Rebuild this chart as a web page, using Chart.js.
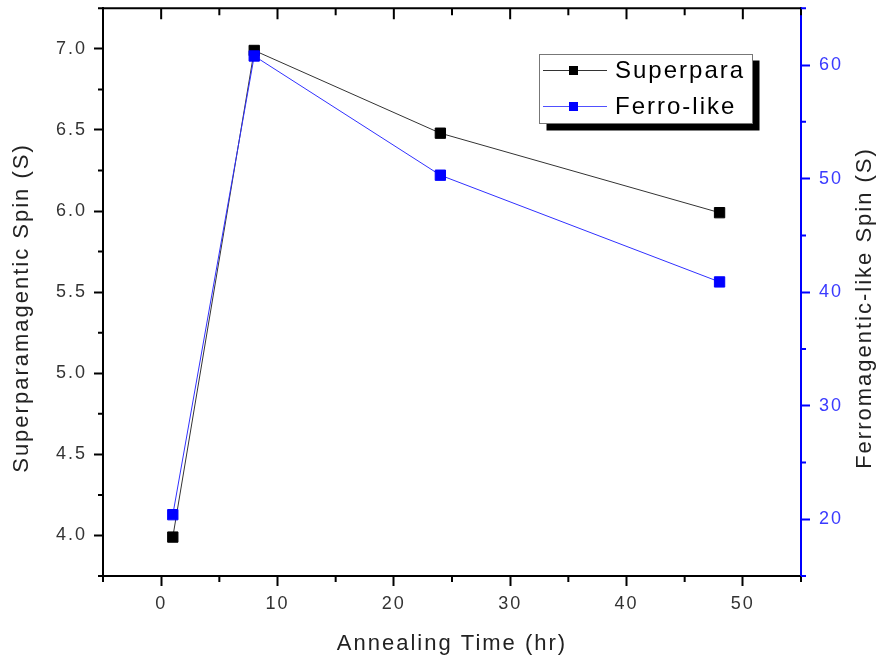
<!DOCTYPE html>
<html lang="en">

<head>
  <meta charset="UTF-8">
  <title>Annealing Time vs Spin</title>
  <script src="https://cdn.jsdelivr.net/npm/chart.js"></script>
  <style>
    body { margin: 0; background: #fff; }
    #grafico { display: block; }
  </style>
</head>

<body>
  <canvas id="grafico" width="884" height="665"></canvas>
</body>
<script>
  // dados
  const tempos = [1, 8, 24, 48];
  const superpara = [3.99, 6.99, 6.48, 5.99];
  const ferroLike = [20.4, 60.8, 50.3, 40.9];

  const ticksX = [0, 10, 20, 30, 40, 50];
  const minorX = [-5, 5, 15, 25, 35, 45, 55];
  const ticksY = [4.0, 4.5, 5.0, 5.5, 6.0, 6.5, 7.0];
  const minorY = [3.75, 4.25, 4.75, 5.25, 5.75, 6.25, 6.75, 7.25];
  const ticksY2 = [20, 30, 40, 50, 60];
  const minorY2 = [15, 25, 35, 45, 55, 65];

  const legendas = ['Superpara', 'Ferro-like'];
  const tituloY = 'Superparamagentic Spin (S)';
  const tituloY2 = 'Ferromagentic-like Spin (S)';
  const azul = '#0000ff';
  const fonte = 'Liberation Sans, Arial, sans-serif';

  function pontos(ys) {
    return tempos.map((t, i) => ({ x: t, y: ys[i] }));
  }

  // espaçamento entre letras igual ao da figura
  const espaco = {
    id: 'espaco',
    beforeUpdate(chart) { chart.ctx.letterSpacing = '2px'; },
    beforeDraw(chart) { chart.ctx.letterSpacing = '2px'; }
  };

  function tituloVertical(ctx, texto, x, y) {
    ctx.save();
    ctx.translate(x, y);
    ctx.rotate(-Math.PI / 2);
    ctx.font = '22px ' + fonte;
    ctx.letterSpacing = '2px';
    ctx.fillStyle = '#222';
    ctx.textAlign = 'center';
    ctx.textBaseline = 'middle';
    ctx.fillText(texto, 0, 0);
    ctx.restore();
  }

  // eixo de cima, ticks menores, títulos verticais e legenda com sombra
  const extras = {
    id: 'extras',
    afterDraw(chart) {
      const ctx = chart.ctx;
      const a = chart.chartArea;
      const sx = chart.scales.x, sy = chart.scales.y, sy2 = chart.scales.y2;
      ctx.save();
      ctx.lineWidth = 2;
      ctx.strokeStyle = '#000';
      ctx.beginPath();
      ctx.moveTo(a.left - 1, a.top);
      ctx.lineTo(a.right, a.top);
      ctx.stroke();

      ctx.beginPath();
      ticksX.forEach(v => {
        const px = sx.getPixelForValue(v);
        ctx.moveTo(px, a.top); ctx.lineTo(px, a.top + 11);
      });
      minorX.forEach(v => {
        const px = sx.getPixelForValue(v);
        ctx.moveTo(px, a.bottom); ctx.lineTo(px, a.bottom + 6);
        ctx.moveTo(px, a.top); ctx.lineTo(px, a.top + 7);
      });
      minorY.forEach(v => {
        const py = sy.getPixelForValue(v);
        ctx.moveTo(a.left, py); ctx.lineTo(a.left - 5, py);
      });
      ctx.stroke();

      ctx.strokeStyle = azul;
      ctx.beginPath();
      minorY2.forEach(v => {
        const py = sy2.getPixelForValue(v);
        ctx.moveTo(a.right, py); ctx.lineTo(a.right + 5, py);
      });
      ctx.stroke();

      tituloVertical(ctx, tituloY, 22, 308);
      tituloVertical(ctx, tituloY2, 865, 308);

      // legenda
      const lx = 539.5, ly = 54.5, lw = 213, lh = 69;
      ctx.fillStyle = '#000';
      ctx.fillRect(lx + 7, ly + 6, lw, lh + 1);
      ctx.fillStyle = '#fff';
      ctx.fillRect(lx, ly, lw, lh);
      ctx.lineWidth = 1;
      ctx.strokeStyle = '#777';
      ctx.strokeRect(lx, ly, lw, lh);

      const cores = ['#000', azul];
      const linhas = ['#333', '#5050ff'];
      const ys = [70.5, 106.5];
      ctx.font = '24px ' + fonte;
      ctx.letterSpacing = '2px';
      ctx.textBaseline = 'middle';
      ctx.textAlign = 'left';
      legendas.forEach((txt, i) => {
        ctx.strokeStyle = linhas[i];
        ctx.beginPath();
        ctx.moveTo(543, ys[i]); ctx.lineTo(607, ys[i]);
        ctx.stroke();
        ctx.fillStyle = cores[i];
        ctx.fillRect(569, ys[i] - 4.5, 9, 9);
        ctx.fillStyle = '#000';
        ctx.fillText(txt, 615, ys[i] + 1);
      });
      ctx.restore();
    }
  };

  const grafico = new Chart(document.getElementById('grafico').getContext('2d'), {
    type: 'line',
    data: {
      datasets: [
        {
          label: legendas[1],
          data: pontos(ferroLike),
          yAxisID: 'y2',
          borderColor: '#3030ff',
          borderWidth: 1,
          backgroundColor: azul,
          pointStyle: 'rect',
          pointRadius: 7.3,
          pointBorderWidth: 1,
          pointBorderColor: azul,
          tension: 0,
          order: 0
        },
        {
          label: legendas[0],
          data: pontos(superpara),
          yAxisID: 'y',
          borderColor: '#333',
          borderWidth: 1,
          backgroundColor: '#000',
          pointStyle: 'rect',
          pointRadius: 7.3,
          pointBorderWidth: 1,
          pointBorderColor: '#000',
          tension: 0,
          order: 1
        }
      ]
    },
    options: {
      responsive: false,
      animation: false,
      layout: { padding: { top: 6, left: 0, right: 0, bottom: 0 } },
      plugins: {
        legend: { display: false },
        tooltip: { enabled: false }
      },
      scales: {
        x: {
          type: 'linear',
          position: 'bottom',
          min: -5,
          max: 55,
          afterBuildTicks: s => { s.ticks = ticksX.map(v => ({ value: v })); },
          afterFit: s => { s.height = 89; s.paddingLeft = 0; s.paddingRight = 0; },
          border: { display: true, color: '#000', width: 2 },
          grid: { drawOnChartArea: false, drawTicks: true, tickLength: 10, tickWidth: 2, tickColor: '#000' },
          ticks: { color: '#333', padding: 7, font: { family: fonte, size: 18 } },
          title: {
            display: true,
            text: 'Annealing Time (hr)',
            color: '#222',
            padding: { top: 0, bottom: 8 },
            font: { family: fonte, size: 22 }
          }
        },
        y: {
          type: 'linear',
          position: 'left',
          min: 3.75,
          max: 7.25,
          afterBuildTicks: s => { s.ticks = ticksY.map(v => ({ value: v })); },
          afterFit: s => { s.width = 103; s.paddingTop = 0; s.paddingBottom = 0; },
          border: { display: true, color: '#000', width: 2 },
          grid: { drawOnChartArea: false, drawTicks: true, tickLength: 9, tickWidth: 2, tickColor: '#000' },
          ticks: {
            color: '#333',
            padding: 7,
            font: { family: fonte, size: 18 },
            callback: v => Number(v).toFixed(1)
          }
        },
        y2: {
          type: 'linear',
          position: 'right',
          min: 15,
          max: 65,
          afterBuildTicks: s => { s.ticks = ticksY2.map(v => ({ value: v })); },
          afterFit: s => { s.width = 83; s.paddingTop = 0; s.paddingBottom = 0; },
          border: { display: true, color: azul, width: 2 },
          grid: { drawOnChartArea: false, drawTicks: true, tickLength: 9, tickWidth: 2, tickColor: azul },
          ticks: { color: '#3a3aff', padding: 9, font: { family: fonte, size: 18 } }
        }
      }
    },
    plugins: [espaco, extras]
  });
</script>

</html>
